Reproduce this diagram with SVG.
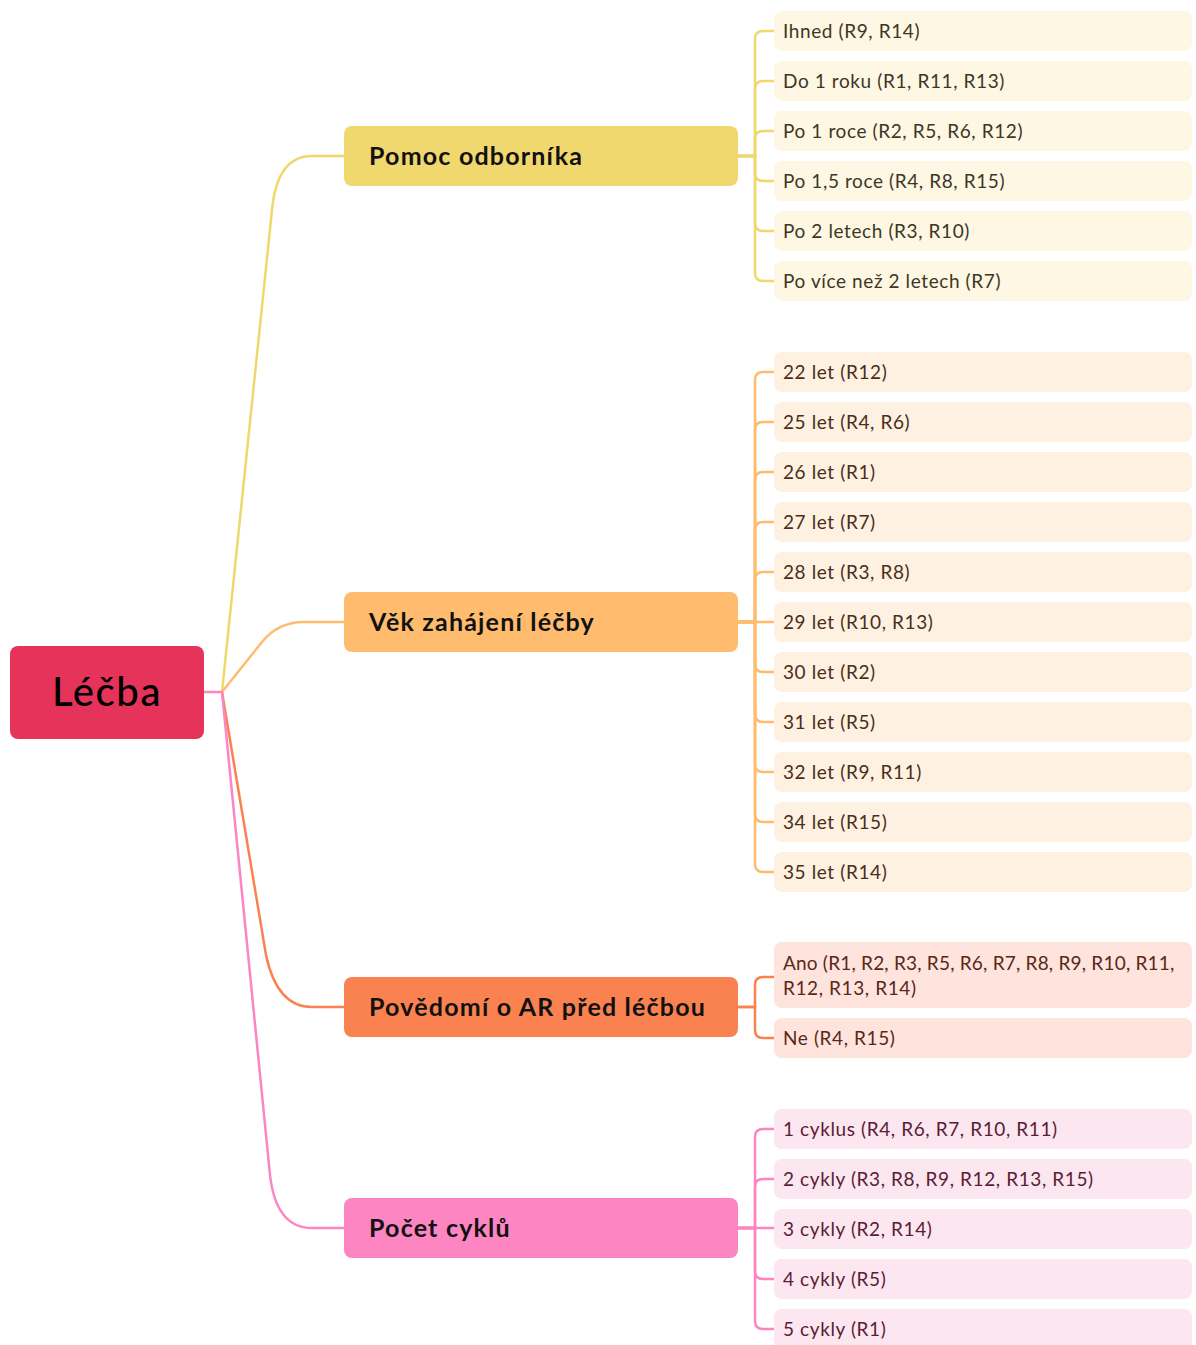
<svg xmlns="http://www.w3.org/2000/svg" width="1196" height="1345" viewBox="0 0 1196 1345">
<style>
.root{fill:#E5335A}
.rt{font-family:Lato,"Noto Sans",sans-serif;font-size:40px;font-weight:500;fill:#000;text-anchor:middle;letter-spacing:1.6px}
.bt{font-family:Lato,"Noto Sans",sans-serif;font-size:25px;font-weight:700;fill:#111;letter-spacing:1.2px}
.lt{font-family:Lato,"Noto Sans",sans-serif;font-size:19px;letter-spacing:0.6px}
.c{fill:none;stroke-width:2.5;stroke-linecap:round}
.y{stroke:#F0D86E}.o{stroke:#FFBC6E}.r{stroke:#FA8150}.p{stroke:#FC85C2}
.ly{fill:#FDF7E3}.lo{fill:#FEF1E2}.lr{fill:#FEE4DD}.lp{fill:#FCE6EF}
.ty{fill:#3D3626}.to{fill:#4A2E18}.tr{fill:#5A2818}.tp{fill:#5A1D36}
</style>
<rect width="1196" height="1345" fill="#fff"/>
<g id="connectors">
<path class="c p" d="M204 692 H222"/>
<path class="c y" d="M222 692 L272 210 Q277 156 312 156 H344"/>
<path class="c o" d="M222 692 L262 642 Q278 622 304 622 H344"/>
<path class="c r" d="M222 692 L266 955 Q277 1007 312 1007 H344"/>
<path class="c p" d="M222 692 L270 1175 Q276 1228 312 1228 H344"/>
<path class="c y" d="M738 156 H755 V39 Q755 31 763 31 H774"/>
<path class="c y" d="M738 156 H755 V89 Q755 81 763 81 H774"/>
<path class="c y" d="M738 156 H755 V139 Q755 131 763 131 H774"/>
<path class="c y" d="M738 156 H755 V173 Q755 181 763 181 H774"/>
<path class="c y" d="M738 156 H755 V223 Q755 231 763 231 H774"/>
<path class="c y" d="M738 156 H755 V273 Q755 281 763 281 H774"/>
<path class="c o" d="M738 622 H755 V380 Q755 372 763 372 H774"/>
<path class="c o" d="M738 622 H755 V430 Q755 422 763 422 H774"/>
<path class="c o" d="M738 622 H755 V480 Q755 472 763 472 H774"/>
<path class="c o" d="M738 622 H755 V530 Q755 522 763 522 H774"/>
<path class="c o" d="M738 622 H755 V580 Q755 572 763 572 H774"/>
<path class="c o" d="M738 622 H774"/>
<path class="c o" d="M738 622 H755 V664 Q755 672 763 672 H774"/>
<path class="c o" d="M738 622 H755 V714 Q755 722 763 722 H774"/>
<path class="c o" d="M738 622 H755 V764 Q755 772 763 772 H774"/>
<path class="c o" d="M738 622 H755 V814 Q755 822 763 822 H774"/>
<path class="c o" d="M738 622 H755 V864 Q755 872 763 872 H774"/>
<path class="c r" d="M738 1007 H755 V985 Q755 977 763 977 H774"/>
<path class="c r" d="M738 1007 H755 V1030 Q755 1038 763 1038 H774"/>
<path class="c p" d="M738 1228 H755 V1137 Q755 1129 763 1129 H774"/>
<path class="c p" d="M738 1228 H755 V1187 Q755 1179 763 1179 H774"/>
<path class="c p" d="M738 1228 H774"/>
<path class="c p" d="M738 1228 H755 V1271 Q755 1279 763 1279 H774"/>
<path class="c p" d="M738 1228 H755 V1321 Q755 1329 763 1329 H774"/>
</g>
<g id="root"><rect class="root" x="10" y="646" width="194" height="93" rx="8"/><text class="rt" x="107" y="706">Léčba</text></g>
<g id="b1"><rect x="344" y="126" width="394" height="60" rx="8" fill="#F0D86E"/><text class="bt" x="369" y="165">Pomoc odborníka</text></g>
<g id="b2"><rect x="344" y="592" width="394" height="60" rx="8" fill="#FFBC6E"/><text class="bt" x="369" y="631">Věk zahájení léčby</text></g>
<g id="b3"><rect x="344" y="977" width="394" height="60" rx="8" fill="#FA8150"/><text class="bt" x="369" y="1016">Povědomí o AR před léčbou</text></g>
<g id="b4"><rect x="344" y="1198" width="394" height="60" rx="8" fill="#FC85C2"/><text class="bt" x="369" y="1237">Počet cyklů</text></g>
<g id="l1a"><rect class="ly" x="774" y="11" width="418" height="40" rx="8"/><text class="lt ty" x="783" y="38">Ihned (R9, R14)</text></g>
<g id="l1b"><rect class="ly" x="774" y="61" width="418" height="40" rx="8"/><text class="lt ty" x="783" y="88">Do 1 roku (R1, R11, R13)</text></g>
<g id="l1c"><rect class="ly" x="774" y="111" width="418" height="40" rx="8"/><text class="lt ty" x="783" y="138">Po 1 roce (R2, R5, R6, R12)</text></g>
<g id="l1d"><rect class="ly" x="774" y="161" width="418" height="40" rx="8"/><text class="lt ty" x="783" y="188">Po 1,5 roce (R4, R8, R15)</text></g>
<g id="l1e"><rect class="ly" x="774" y="211" width="418" height="40" rx="8"/><text class="lt ty" x="783" y="238">Po 2 letech (R3, R10)</text></g>
<g id="l1f"><rect class="ly" x="774" y="261" width="418" height="40" rx="8"/><text class="lt ty" x="783" y="288">Po více než 2 letech (R7)</text></g>
<g id="l2a"><rect class="lo" x="774" y="352" width="418" height="40" rx="8"/><text class="lt to" x="783" y="379">22 let (R12)</text></g>
<g id="l2b"><rect class="lo" x="774" y="402" width="418" height="40" rx="8"/><text class="lt to" x="783" y="429">25 let (R4, R6)</text></g>
<g id="l2c"><rect class="lo" x="774" y="452" width="418" height="40" rx="8"/><text class="lt to" x="783" y="479">26 let (R1)</text></g>
<g id="l2d"><rect class="lo" x="774" y="502" width="418" height="40" rx="8"/><text class="lt to" x="783" y="529">27 let (R7)</text></g>
<g id="l2e"><rect class="lo" x="774" y="552" width="418" height="40" rx="8"/><text class="lt to" x="783" y="579">28 let (R3, R8)</text></g>
<g id="l2f"><rect class="lo" x="774" y="602" width="418" height="40" rx="8"/><text class="lt to" x="783" y="629">29 let (R10, R13)</text></g>
<g id="l2g"><rect class="lo" x="774" y="652" width="418" height="40" rx="8"/><text class="lt to" x="783" y="679">30 let (R2)</text></g>
<g id="l2h"><rect class="lo" x="774" y="702" width="418" height="40" rx="8"/><text class="lt to" x="783" y="729">31 let (R5)</text></g>
<g id="l2i"><rect class="lo" x="774" y="752" width="418" height="40" rx="8"/><text class="lt to" x="783" y="779">32 let (R9, R11)</text></g>
<g id="l2j"><rect class="lo" x="774" y="802" width="418" height="40" rx="8"/><text class="lt to" x="783" y="829">34 let (R15)</text></g>
<g id="l2k"><rect class="lo" x="774" y="852" width="418" height="40" rx="8"/><text class="lt to" x="783" y="879">35 let (R14)</text></g>
<g id="l3a"><rect class="lr" x="774" y="942" width="418" height="66" rx="8"/><text class="lt tr" x="783" y="970" style="letter-spacing:0.2px">Ano (R1, R2, R3, R5, R6, R7, R8, R9, R10, R11,</text><text class="lt tr" x="783" y="995">R12, R13, R14)</text></g>
<g id="l3b"><rect class="lr" x="774" y="1018" width="418" height="40" rx="8"/><text class="lt tr" x="783" y="1045">Ne (R4, R15)</text></g>
<g id="l4a"><rect class="lp" x="774" y="1109" width="418" height="40" rx="8"/><text class="lt tp" x="783" y="1136">1 cyklus (R4, R6, R7, R10, R11)</text></g>
<g id="l4b"><rect class="lp" x="774" y="1159" width="418" height="40" rx="8"/><text class="lt tp" x="783" y="1186">2 cykly (R3, R8, R9, R12, R13, R15)</text></g>
<g id="l4c"><rect class="lp" x="774" y="1209" width="418" height="40" rx="8"/><text class="lt tp" x="783" y="1236">3 cykly (R2, R14)</text></g>
<g id="l4d"><rect class="lp" x="774" y="1259" width="418" height="40" rx="8"/><text class="lt tp" x="783" y="1286">4 cykly (R5)</text></g>
<g id="l4e"><rect class="lp" x="774" y="1309" width="418" height="40" rx="8"/><text class="lt tp" x="783" y="1336">5 cykly (R1)</text></g>
</svg>
